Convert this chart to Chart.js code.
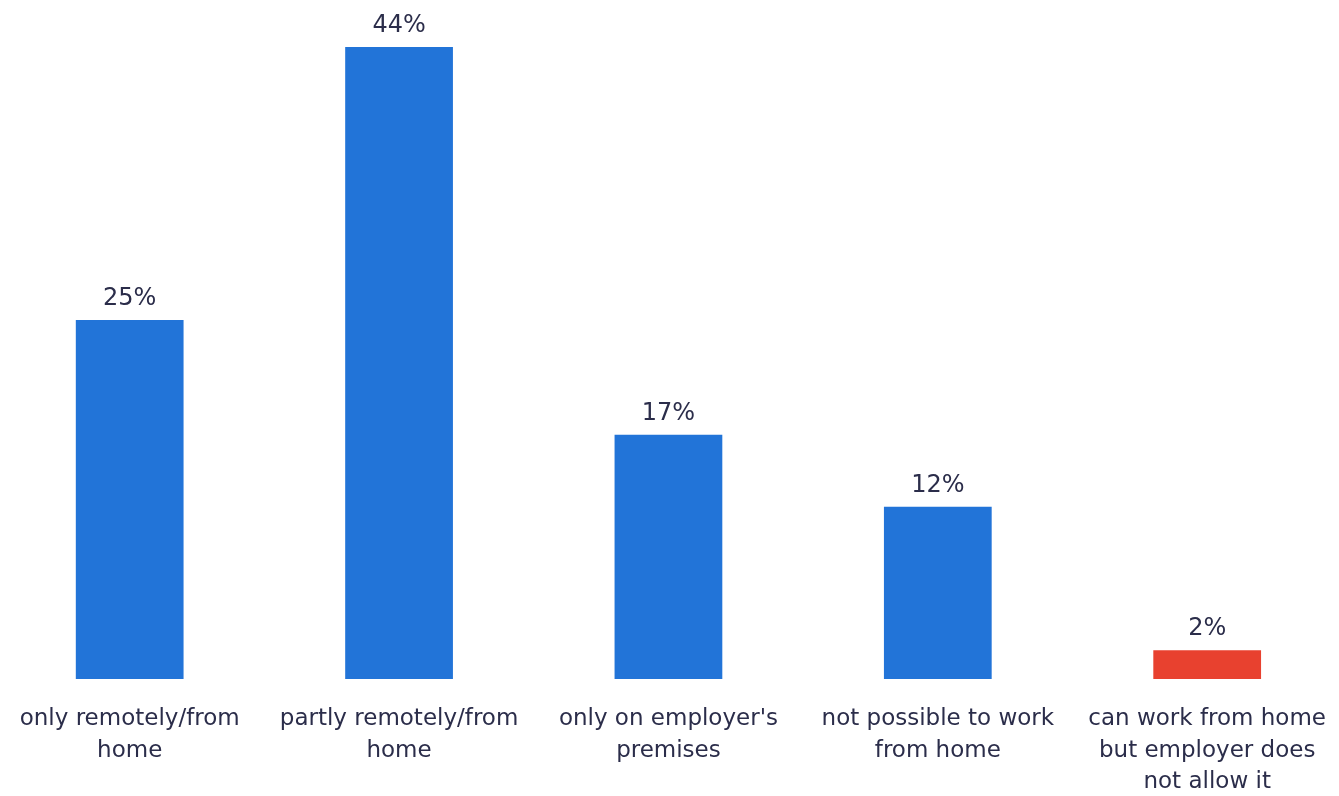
<!DOCTYPE html>
<html>
<head>
<meta charset="utf-8">
<script src="https://cdn.jsdelivr.net/npm/chart.js@4/dist/chart.umd.min.js"></script>
<style>
  html, body { margin: 0; padding: 0; background: #fff; overflow: hidden; }
  #wrap { width: 1348px; height: 796px; position: relative; left: -5px; }
</style>
</head>
<body>
<div id="wrap"><canvas id="myChart"></canvas></div>
<script>
// categories (multi-line, as in the picture)
var categories = [
    ['only remotely/from', 'home'],
    ['partly remotely/from', 'home'],
    ["only on employer's", 'premises'],
    ['not possible to work', 'from home'],
    ['can work from home', 'but employer does', 'not allow it']
];
var shares = [25, 44, 17, 12, 2];
var barColors = ['#2274d8', '#2274d8', '#2274d8', '#2274d8', '#e8412f'];

var textColor = '#2b2d4a';
var fontFamily = 'Tahoma, "DejaVu Sans", Verdana, sans-serif';

// writes the percentage above each bar
var valueLabels = {
    id: 'valueLabels',
    afterDatasetsDraw: function (chart) {
        var c = chart.ctx;
        var meta = chart.getDatasetMeta(0);
        c.save();
        c.font = '24px ' + fontFamily;
        c.fillStyle = textColor;
        c.textAlign = 'center';
        c.textBaseline = 'alphabetic';
        meta.data.forEach(function (bar, i) {
            c.fillText(shares[i] + '%', bar.x, bar.y - 15);
        });
        c.restore();
    }
};

var ctx = document.getElementById('myChart');

var myChart = new Chart(ctx, {
    type: 'bar',
    data: {
        labels: categories,
        datasets: [{
            data: shares,
            backgroundColor: barColors,
            barPercentage: 0.4,
            categoryPercentage: 1.0
        }]
    },
    options: {
        responsive: true,
        maintainAspectRatio: false,
        animation: false,
        layout: { padding: { top: 47, left: 0, right: 0, bottom: 0 } },
        plugins: {
            legend: { display: false },
            tooltip: { enabled: false }
        },
        scales: {
            x: {
                grid: { display: false },
                border: { display: false },
                ticks: {
                    color: textColor,
                    font: { family: fontFamily, size: 23, lineHeight: 1.35 },
                    padding: 17,
                    maxRotation: 0,
                    autoSkip: false
                },
                afterFit: function (scale) { scale.height = 117; }
            },
            y: {
                display: false,
                min: 0,
                max: 44
            }
        }
    },
    plugins: [valueLabels]
});
</script>
</body>
</html>
